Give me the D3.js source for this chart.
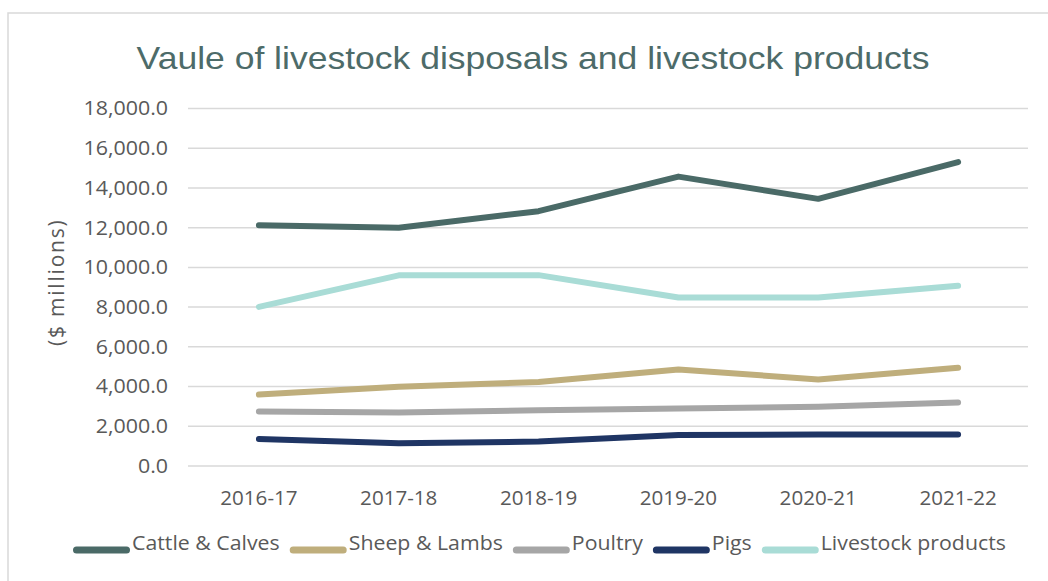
<!DOCTYPE html>
<html>
<head>
<meta charset="utf-8">
<script src="https://cdn.jsdelivr.net/npm/d3@7"></script>
<style>
  html, body { margin: 0; padding: 0; background: #fff; }
  svg { display: block; }
  .wide { transform-box: fill-box; }
</style>
</head>
<body>
<svg id="chart" width="1048" height="581"></svg>
<script>
// Financial years on the x axis
const years = ["2016-17", "2017-18", "2018-19", "2019-20", "2020-21", "2021-22"];

// Gross value per series, $ millions
const cattleCalves = [12120, 12000, 12830, 14570, 13450, 15300];
const sheepLambs   = [3600, 3990, 4230, 4860, 4360, 4950];
const poultry      = [2740, 2690, 2810, 2900, 2980, 3200];
const pigs         = [1360, 1150, 1230, 1560, 1580, 1580];
const livestockProducts = [8010, 9600, 9610, 8480, 8480, 9070];

const seriesNames  = ["Cattle & Calves", "Sheep & Lambs", "Poultry", "Pigs", "Livestock products"];
const seriesColors = ["#4a6a67", "#bfae7c", "#a6a6a6", "#1f3564", "#a9dcd6"];
const yTicks = [0, 2000, 4000, 6000, 8000, 10000, 12000, 14000, 16000, 18000];

const title = "Vaule of livestock disposals and livestock products";
const yTitle = "($ millions)";

const series = [cattleCalves, sheepLambs, poultry, pigs, livestockProducts].map((values, i) => ({
  name: seriesNames[i], color: seriesColors[i], values
}));

const W = 1048, H = 581;
const plot = { left: 189, right: 1028, top: 108.5, bottom: 466 };
const bodyFont = "'Open Sans', sans-serif";
const textColor = "#595959";

// Slightly widened lettering for all labels
function widen(sel, origin, k) {
  sel.attr("class", "wide")
    .style("transform-origin", origin)
    .style("transform", `scaleX(${k})`);
}

const svg = d3.select("#chart");

// Frame around the chart area
svg.append("path")
  .attr("d", `M8,${H} L8,13 L${W},13`)
  .attr("fill", "none")
  .attr("stroke", "#d9d9d9")
  .attr("stroke-width", 1.5);

const x = d3.scaleBand().domain(years).range([plot.left, plot.right]);
const y = d3.scaleLinear().domain([0, 18000]).range([plot.bottom, plot.top]);

// Horizontal gridlines
svg.append("g")
  .selectAll("line")
  .data(yTicks)
  .join("line")
  .attr("x1", plot.left - 1).attr("x2", plot.right)
  .attr("y1", d => y(d)).attr("y2", d => y(d))
  .attr("stroke", "#d9d9d9").attr("stroke-width", 1.5);

// Y axis labels
const fmt = d3.format(",.1f");
const yAxis = d3.axisLeft(y).tickValues(yTicks).tickFormat(fmt).tickSize(0).tickPadding(21);
const yg = svg.append("g").attr("transform", `translate(${plot.left},0)`).call(yAxis);
yg.select(".domain").remove();
yg.selectAll("text")
  .attr("font-family", bodyFont)
  .attr("font-size", 20)
  .attr("fill", textColor)
  .call(widen, "100% 50%", 1.07);

// X axis labels
const xAxis = d3.axisBottom(x).tickSize(0).tickPadding(25);
const xg = svg.append("g").attr("transform", `translate(0,${y(0)})`).call(xAxis);
xg.select(".domain").remove();
xg.selectAll("text")
  .attr("font-family", bodyFont)
  .attr("font-size", 20)
  .attr("fill", textColor)
  .call(widen, "50% 50%", 1.03);

// Y axis title
svg.append("text")
  .attr("transform", `translate(57,${(y(0) + y(18000)) / 2 - 5}) rotate(-90)`)
  .attr("text-anchor", "middle")
  .attr("dy", "0.35em")
  .attr("font-family", bodyFont)
  .attr("font-size", 21)
  .attr("letter-spacing", 1.8)
  .attr("fill", textColor)
  .text(yTitle);

// Title
svg.append("text")
  .attr("x", 533).attr("y", 69)
  .attr("text-anchor", "middle")
  .attr("font-family", "'Liberation Sans', Arial, sans-serif")
  .attr("font-size", 32)
  .attr("fill", "#4d6b69")
  .text(title)
  .call(widen, "50% 50%", 1.11);

// Series lines
const line = d3.line()
  .x((d, i) => x(years[i]) + x.bandwidth() / 2)
  .y(d => y(d));

svg.append("g")
  .selectAll("path")
  .data(series)
  .join("path")
  .attr("d", d => line(d.values))
  .attr("fill", "none")
  .attr("stroke", d => d.color)
  .attr("stroke-width", 6)
  .attr("stroke-linejoin", "round")
  .attr("stroke-linecap", "round");

// Legend
const legend = svg.append("g").attr("transform", "translate(73,550)");
const legendStretch = 1.065;
let lx = 0;
series.forEach(s => {
  const g = legend.append("g").attr("transform", `translate(${lx},0)`);
  g.append("line")
    .attr("x1", 3.5).attr("x2", 53.5).attr("y1", 0).attr("y2", 0)
    .attr("stroke", s.color).attr("stroke-width", 7).attr("stroke-linecap", "round");
  const t = g.append("text")
    .attr("x", 59).attr("y", 0)
    .attr("font-family", bodyFont)
    .attr("font-size", 20)
    .attr("fill", textColor)
    .text(s.name)
    .call(widen, "0% 50%", legendStretch);
  lx += 59 + t.node().getComputedTextLength() * legendStretch + 10;
});
</script>
</body>
</html>
